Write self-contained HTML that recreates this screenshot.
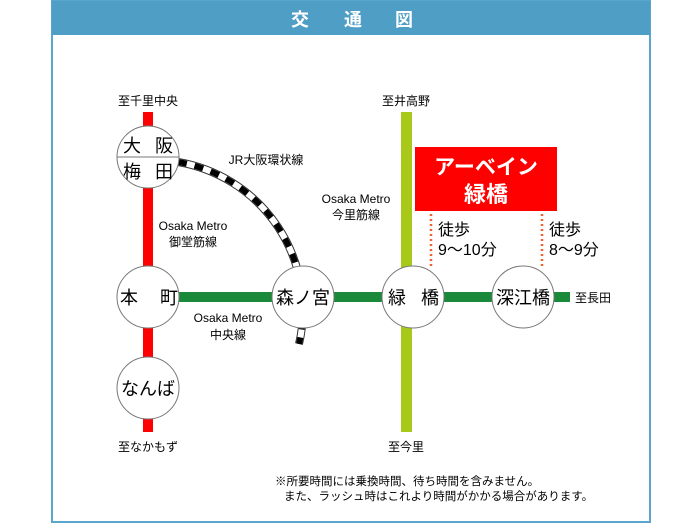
<!DOCTYPE html>
<html><head><meta charset="utf-8"><style>
body{margin:0;background:#fff;}
svg text{font-family:"Liberation Sans","Noto Sans CJK JP",sans-serif;}
</style></head><body>
<svg width="700" height="525" viewBox="0 0 700 525" xmlns="http://www.w3.org/2000/svg">
<rect x="0" y="0" width="700" height="525" fill="#fff"/>
<rect x="52" y="1" width="598" height="521" fill="#fff" stroke="#5aa6cc" stroke-width="2"/>
<rect x="52" y="1" width="598" height="34" fill="#4f9ec6"/>
<g font-size="18" font-weight="bold" fill="#fff" text-anchor="middle">
<text x="300" y="26">交</text>
<text x="353" y="26">通</text>
<text x="404" y="26">図</text>
</g>

<!-- lines -->
<rect x="143" y="112" width="10" height="320" fill="#f00"/>
<rect x="401" y="112" width="11" height="320" fill="#a8c81a"/>
<rect x="148" y="292" width="422" height="10" fill="#1a8a3a"/>

<!-- JR arc -->
<path d="M178,162 A150,150 0 0 1 299,344" fill="none" stroke="#333" stroke-width="8"/>
<path d="M178,162 A150,150 0 0 1 299,344" fill="none" stroke="#fff" stroke-width="6"/>
<path d="M178,162 A150,150 0 0 1 299,344" fill="none" stroke="#000" stroke-width="6" stroke-dasharray="9,8"/>

<!-- circles -->
<g fill="#fff" stroke="#777" stroke-width="1">
<circle cx="148" cy="157" r="31"/>
<circle cx="148" cy="297" r="31"/>
<circle cx="148" cy="388" r="31"/>
<circle cx="303" cy="297" r="31"/>
<circle cx="413" cy="297" r="31"/>
<circle cx="523" cy="297" r="31"/>
</g>
<line x1="117" y1="157" x2="179" y2="157" stroke="#777"/>
<g font-size="18" fill="#000" text-anchor="middle">
<text x="132" y="152">大</text>
<text x="164" y="152">阪</text>
<text x="132" y="178">梅</text>
<text x="164" y="178">田</text>
<text x="129" y="304">本</text>
<text x="169" y="304">町</text>
<text x="148" y="395">なんば</text>
<text x="303" y="304">森ノ宮</text>
<text x="397" y="304">緑</text>
<text x="430" y="304">橋</text>
<text x="523" y="304">深江橋</text>
</g>

<g font-size="12" fill="#000" text-anchor="middle">
<text x="148" y="105">至千里中央</text>
<text x="406" y="105">至井高野</text>
<text x="148" y="451">至なかもず</text>
<text x="406" y="451">至今里</text>
<text x="266" y="164">JR大阪環状線</text>
<text x="193" y="230">Osaka Metro</text>
<text x="193" y="246">御堂筋線</text>
<text x="228" y="322">Osaka Metro</text>
<text x="228" y="339">中央線</text>
<text x="356" y="203">Osaka Metro</text>
<text x="356" y="219">今里筋線</text>
<text x="593" y="302">至長田</text>
</g>

<rect x="415" y="147" width="142" height="64" fill="#f00"/>
<text x="486" y="174" font-size="21" font-weight="bold" fill="#fff" text-anchor="middle">アーベイン</text>
<text x="486" y="202" font-size="22" font-weight="bold" fill="#fff" text-anchor="middle">緑橋</text>

<g stroke="#f06030" stroke-width="2.5" stroke-dasharray="2,3">
<line x1="431" y1="214" x2="431" y2="268"/>
<line x1="542" y1="214" x2="542" y2="268"/>
</g>
<g font-size="16" fill="#000">
<text x="438" y="235">徒歩</text>
<text x="438" y="255">9〜10分</text>
<text x="549" y="235">徒歩</text>
<text x="549" y="255">8〜9分</text>
</g>

<g font-size="11.5" fill="#000">
<text x="275" y="485">※所要時間には乗換時間、待ち時間を含みません。</text>
<text x="284" y="500">また、ラッシュ時はこれより時間がかかる場合があります。</text>
</g>
</svg>
</body></html>
